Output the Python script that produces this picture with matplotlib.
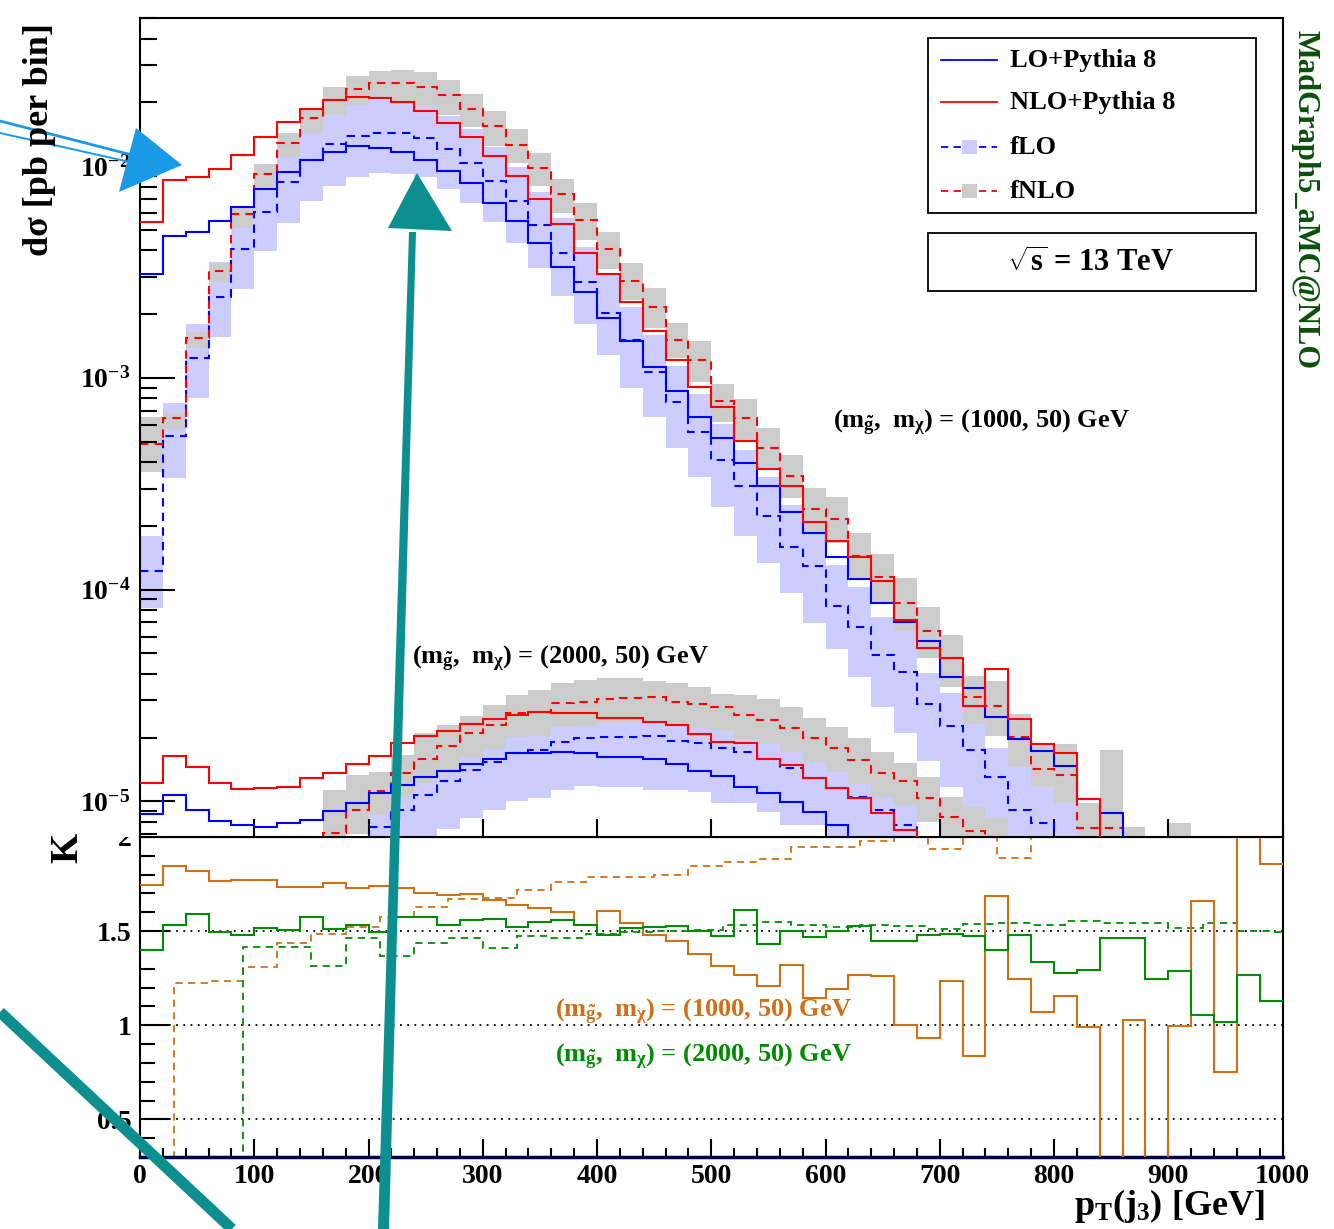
import numpy as np
import matplotlib
matplotlib.use('Agg')
import matplotlib.pyplot as plt
from matplotlib.patches import Rectangle, Polygon

plt.rcParams['font.family'] = 'Liberation Serif'
plt.rcParams['font.weight'] = 'bold'
plt.rcParams['mathtext.fontset'] = 'custom'
plt.rcParams['mathtext.rm'] = 'Liberation Serif:bold'
plt.rcParams['mathtext.it'] = 'Liberation Serif:bold'
plt.rcParams['mathtext.bf'] = 'Liberation Serif:bold'
plt.rcParams['mathtext.default'] = 'rm'

W, H = 1334, 1229
OFF = -7.0   # bin below the plotted range

# pT(j3) binning: 20 GeV for the histograms, 30 GeV for the fixed-order K factor
edges = np.arange(0, 1001, 20)
fo_edges = np.arange(0, 1021, 30)

# log10(dsigma / pb per bin), (m_gluino, m_chi) = (1000, 50) GeV
lo_a = [-2.511, -2.331, -2.312, -2.261, -2.195, -2.110, -2.028, -1.972, -1.932, -1.907,
        -1.914, -1.935, -1.972, -2.024, -2.082, -2.173, -2.261, -2.362, -2.478, -2.594,
        -2.719, -2.825, -2.948, -3.061, -3.184, -3.286, -3.404, -3.511, -3.632, -3.731,
        -3.848, -3.951, -4.062, -4.153, -4.241, -4.414, -4.466, -4.600, -4.705, -4.761,
        -4.831, -4.990, -5.056, OFF, OFF, OFF, OFF, OFF, OFF, OFF]
nlo_a = [-2.266, -2.066, -2.051, -2.014, -1.947, -1.862, -1.791, -1.731, -1.688, -1.673,
         -1.678, -1.696, -1.740, -1.796, -1.862, -1.951, -2.046, -2.156, -2.274, -2.409,
         -2.511, -2.641, -2.778, -2.916, -3.042, -3.136, -3.297, -3.432, -3.511, -3.679,
         -3.769, -3.845, -3.959, -4.144, -4.274, -4.324, -4.548, -4.375, -4.611, -4.729,
         -4.770, -4.990, OFF, OFF, OFF, OFF, OFF, OFF, OFF, OFF]
flo_a = [-3.911, -3.275, -2.908, -2.617, -2.390, -2.216, -2.074, -1.972, -1.898, -1.858,
         -1.843, -1.843, -1.869, -1.920, -1.984, -2.069, -2.165, -2.279, -2.409, -2.549,
         -2.693, -2.822, -2.974, -3.113, -3.254, -3.388, -3.509, -3.651, -3.797, -3.889,
         -4.076, -4.175, -4.309, -4.388, -4.542, -4.644, -4.757, -4.886, -5.041, -5.103,
         OFF, OFF, OFF, OFF, OFF, OFF, OFF, OFF, OFF, OFF]
fnlo_a = [-3.313, -3.190, -2.811, -2.494, -2.228, -2.038, -1.893, -1.775, -1.688, -1.636,
          -1.610, -1.607, -1.626, -1.665, -1.731, -1.811, -1.902, -2.011, -2.132, -2.255,
          -2.393, -2.542, -2.664, -2.822, -2.916, -3.108, -3.191, -3.333, -3.464, -3.621,
          -3.668, -3.841, -3.942, -4.062, -4.194, -4.323, -4.509, -4.550, -4.695, -4.848,
          -4.875, -5.127, -5.127, OFF, OFF, OFF, OFF, OFF, OFF, OFF]
# scale bands (upper / lower edge)
flo_a_up = [-3.747, -3.120, -2.747, -2.453, -2.231, -2.057, -1.920, -1.816, -1.740, -1.703,
            -1.688, -1.688, -1.712, -1.764, -1.825, -1.910, -2.003, -2.121, -2.247, -2.381,
            -2.515, -2.667, -2.798, -2.943, -3.077, -3.218, -3.341, -3.470, -3.601, -3.719,
            -3.884, -3.986, -4.131, -4.191, -4.395, -4.488, -4.600, -4.749, -4.839, -4.923,
            -4.946, OFF, OFF, OFF, OFF, OFF, OFF, OFF, OFF, OFF]
flo_a_dn = [-4.088, -3.475, -3.097, -2.806, -2.582, -2.401, -2.268, -2.165, -2.093, -2.051,
            -2.034, -2.038, -2.051, -2.110, -2.176, -2.263, -2.362, -2.483, -2.612, -2.747,
            -2.892, -3.050, -3.184, -3.330, -3.470, -3.611, -3.747, -3.876, -4.015, -4.159,
            -4.282, -4.414, -4.553, -4.679, -4.808, -4.931, -5.064, -6.0, -6.0, -6.0,
            -6.0, OFF, OFF, OFF, OFF, OFF, OFF, OFF, OFF, OFF]
fnlo_a_up = [-3.184, -3.165, -2.785, -2.459, -2.200, -1.991, -1.843, -1.728, -1.626, -1.575,
             -1.550, -1.547, -1.558, -1.595, -1.660, -1.739, -1.827, -1.937, -2.060, -2.173,
             -2.310, -2.459, -2.575, -2.743, -2.825, -3.029, -3.100, -3.238, -3.364, -3.522,
             -3.564, -3.731, -3.832, -3.944, -4.084, -4.214, -4.408, -4.430, -4.587, -4.734,
             -4.729, -5.006, -4.757, -5.122, OFF, -5.103, OFF, OFF, OFF, OFF]
fnlo_a_dn = [-3.443, -3.243, -2.861, -2.549, -2.294, -2.098, -1.956, -1.846, -1.759, -1.712,
             -1.685, -1.699, -1.712, -1.759, -1.814, -1.906, -1.987, -2.094, -2.223, -2.349,
             -2.488, -2.633, -2.766, -2.908, -3.018, -3.207, -3.294, -3.435, -3.569, -3.728,
             -3.781, -3.955, -4.063, -4.194, -4.324, -4.458, -4.635, -4.691, -4.836, -4.931,
             -5.009, -6.0, -6.0, -6.0, OFF, -6.0, OFF, OFF, OFF, OFF]

# log10(dsigma / pb per bin), (m_gluino, m_chi) = (2000, 50) GeV
lo_b = [-5.061, -4.970, -5.041, -5.091, -5.111, -5.120, -5.103, -5.088, -5.045, -5.009,
        -4.959, -4.923, -4.886, -4.855, -4.825, -4.801, -4.773, -4.770, -4.768, -4.773,
        -4.789, -4.789, -4.801, -4.823, -4.855, -4.880, -4.931, -4.962, -5.001, -5.049,
        -5.111, OFF, OFF, OFF, OFF, OFF, OFF, OFF, OFF, OFF,
        OFF, OFF, OFF, OFF, OFF, OFF, OFF, OFF, OFF, OFF]
nlo_b = [-4.915, -4.784, -4.839, -4.915, -4.941, -4.938, -4.931, -4.891, -4.867, -4.825,
         -4.784, -4.723, -4.691, -4.666, -4.635, -4.611, -4.594, -4.578, -4.581, -4.581,
         -4.608, -4.605, -4.624, -4.639, -4.682, -4.718, -4.726, -4.801, -4.828, -4.891,
         -4.935, -4.985, -5.056, -5.135, OFF, OFF, OFF, OFF, OFF, OFF,
         OFF, OFF, OFF, OFF, OFF, OFF, OFF, OFF, OFF, OFF]
flo_b = [OFF, OFF, OFF, OFF, OFF, OFF, OFF, OFF, OFF, OFF,
         -5.120, -5.041, -4.970, -4.902, -4.852, -4.813, -4.770, -4.757, -4.718, -4.702,
         -4.695, -4.695, -4.691, -4.713, -4.726, -4.749, -4.765, -4.801, -4.844, -4.891,
         -4.938, -4.978, -5.041, -5.111, OFF, OFF, OFF, OFF, OFF, OFF,
         OFF, OFF, OFF, OFF, OFF, OFF, OFF, OFF, OFF, OFF]
fnlo_b = [OFF, OFF, OFF, OFF, OFF, OFF, OFF, OFF, -5.151, -5.041,
          -4.951, -4.867, -4.801, -4.738, -4.679, -4.639, -4.584, -4.577, -4.537, -4.529,
          -4.518, -4.513, -4.509, -4.529, -4.540, -4.556, -4.592, -4.616, -4.655, -4.702,
          -4.749, -4.805, -4.865, -4.902, -4.985, -5.072, -5.138, OFF, OFF, OFF,
          OFF, OFF, OFF, OFF, OFF, OFF, OFF, OFF, OFF, OFF]
flo_b_up = [OFF, OFF, OFF, OFF, OFF, OFF, OFF, OFF, OFF, OFF,
            -4.956, -4.875, -4.805, -4.738, -4.687, -4.649, -4.606, -4.592, -4.554, -4.535,
            -4.531, -4.531, -4.526, -4.550, -4.559, -4.583, -4.602, -4.635, -4.677, -4.724,
            -4.772, -4.814, -4.875, -4.946, OFF, OFF, OFF, OFF, OFF, OFF,
            OFF, OFF, OFF, OFF, OFF, OFF, OFF, OFF, OFF, OFF]
flo_b_dn = [OFF, OFF, OFF, OFF, OFF, OFF, OFF, OFF, OFF, OFF,
            -6.0, -6.0, -6.0, -5.130, -5.078, -5.041, -4.998, -4.984, -4.946, -4.927,
            -4.930, -4.930, -4.946, -4.946, -4.956, -5.009, -5.009, -5.049, -5.111, -5.111,
            -6.0, -6.0, -6.0, -6.0, OFF, OFF, OFF, OFF, OFF, OFF,
            OFF, OFF, OFF, OFF, OFF, OFF, OFF, OFF, OFF, OFF]
fnlo_b_up = [OFF, OFF, OFF, OFF, OFF, OFF, OFF, OFF, -4.946, -4.875,
             -4.861, -4.781, -4.677, -4.639, -4.597, -4.545, -4.498, -4.474, -4.441, -4.427,
             -4.417, -4.417, -4.432, -4.441, -4.460, -4.493, -4.498, -4.517, -4.554, -4.606,
             -4.649, -4.701, -4.767, -4.819, -4.885, -4.979, -5.026, -5.078, OFF, OFF,
             OFF, OFF, OFF, OFF, OFF, OFF, OFF, OFF, OFF, OFF]
fnlo_b_dn = [OFF, OFF, OFF, OFF, OFF, OFF, OFF, OFF, -6.0, -5.154,
             -5.064, -4.979, -4.913, -4.852, -4.790, -4.753, -4.696, -4.691, -4.649, -4.644,
             -4.630, -4.625, -4.620, -4.644, -4.653, -4.668, -4.705, -4.729, -4.767, -4.814,
             -4.861, -4.918, -4.979, -5.017, -5.097, -6.0, -6.0, -6.0, OFF, OFF,
             OFF, OFF, OFF, OFF, OFF, OFF, OFF, OFF, OFF, OFF]

# K factors: NLO+PY8 / LO+PY8 (20 GeV bins) and fNLO / fLO (30 GeV bins)
k_a = [1.744, 1.846, 1.820, 1.767, 1.772, 1.772, 1.735, 1.735, 1.754, 1.728,
       1.740, 1.731, 1.701, 1.690, 1.696, 1.665, 1.637, 1.621, 1.601, 1.530,
       1.607, 1.541, 1.482, 1.447, 1.381, 1.313, 1.269, 1.207, 1.319, 1.145,
       1.195, 1.269, 1.260, 1.003, 0.932, 1.237, 0.834, 1.687, 1.243, 1.068,
       1.154, 0.990, 0.0, 1.029, 0.0, 0.994, 1.660, 0.751, 2.5, 1.859]
k_b = [1.399, 1.530, 1.593, 1.495, 1.482, 1.518, 1.505, 1.577, 1.513, 1.530,
       1.495, 1.577, 1.575, 1.532, 1.557, 1.562, 1.523, 1.548, 1.557, 1.530,
       1.482, 1.518, 1.523, 1.527, 1.500, 1.473, 1.612, 1.434, 1.500, 1.470,
       1.500, 1.527, 1.447, 1.447, 1.479, 1.486, 1.473, 1.402, 1.477, 1.335,
       1.278, 1.296, 1.465, 1.465, 1.246, 1.287, 1.056, 1.015, 1.265, 1.127]
fk_a = [0.0, 1.225, 1.237, 1.310, 1.438, 1.486, 1.521, 1.577, 1.630, 1.669,
        1.678, 1.717, 1.761, 1.788, 1.788, 1.797, 1.845, 1.868, 1.882, 1.945,
        1.945, 1.980, 2.5, 1.935, 2.5, 1.891, 2.5, 2.5, 2.5, 2.5,
        2.5, 2.5, 2.5, 2.5]
fk_b = [0.0, 0.0, 0.0, 1.415, 1.415, 1.313, 1.461, 1.369, 1.436, 1.461,
        1.412, 1.473, 1.461, 1.486, 1.495, 1.500, 1.505, 1.530, 1.548, 1.530,
        1.523, 1.530, 1.527, 1.509, 1.536, 1.541, 1.530, 1.553, 1.545, 1.541,
        1.518, 1.541, 1.500, 1.495]

BLUE = '#0000ff'
RED = '#ff0000'
BAND_LO = '#ccccff'
BAND_NLO = '#cccccc'
ORANGE = '#d06f14'
GREEN = '#008c00'
MG_GREEN = '#0b4f0b'
DASH = (0, (4, 3))


def xs(logv):
    return 10.0 ** np.asarray(logv)


fig = plt.figure(figsize=(W / 100, H / 100), dpi=100)
# ratio pad first so the main pad sits on top of it
ax_k = fig.add_axes([140 / W, 1 - 1157 / H, 1142.5 / W, 320 / H])
ax = fig.add_axes([140 / W, 1 - 837 / H, 1142.5 / W, 819 / H])

# ---- main pad ----
for up, dn in [(flo_a_up, flo_a_dn), (flo_b_up, flo_b_dn)]:
    ax.stairs(xs(up), edges, baseline=xs(dn), fill=True, color=BAND_LO, lw=0, zorder=1)
for up, dn in [(fnlo_a_up, fnlo_a_dn), (fnlo_b_up, fnlo_b_dn)]:
    ax.stairs(xs(up), edges, baseline=xs(dn), fill=True, color=BAND_NLO, lw=0, zorder=1)

for vals, col in [(flo_a, BLUE), (fnlo_a, RED), (flo_b, BLUE), (fnlo_b, RED)]:
    ax.stairs(xs(vals), edges, baseline=None, color=col, lw=1.5, ls=DASH, zorder=2)
for vals, col in [(lo_a, BLUE), (nlo_a, RED), (lo_b, BLUE), (nlo_b, RED)]:
    ax.stairs(xs(vals), edges, baseline=None, color=col, lw=1.5, zorder=3)

ax.set_yscale('log')
ax.set_yticks([1e-5, 1e-4, 1e-3, 1e-2],
              labels=[r'$10^{-5}$', r'$10^{-4}$', r'$10^{-3}$', r'$10^{-2}$'])
ax.set_yticks([m * 10.0 ** k for k in range(-6, -1) for m in range(2, 10)], minor=True)
ax.yaxis.set_minor_formatter(plt.NullFormatter())
ax.set_xticks(np.arange(0, 1001, 100))
# limits after the ticks, set_yticks would widen them otherwise
ax.set_xlim(0, 1000)
ax.set_ylim(10 ** -5.168, 10 ** -1.301)
ax.tick_params(axis='y', which='major', direction='in', length=25, width=1.5,
               labelsize=20, pad=7)
ax.tick_params(axis='y', which='minor', direction='in', length=12.5, width=1.5)
ax.tick_params(axis='x', which='major', direction='in', length=13, width=1.5,
               labelbottom=False)
for s in ax.spines.values():
    s.set_linewidth(1.5)

# ---- K factor pad ----
for lvl in [0.5, 1.0, 1.5]:
    ax_k.axhline(lvl, color='black', lw=1.3, ls=(0, (1, 3)), zorder=1)
ax_k.stairs(fk_a, fo_edges, baseline=None, color=ORANGE, lw=1.3, ls=DASH, zorder=2)
ax_k.stairs(fk_b, fo_edges, baseline=None, color=GREEN, lw=1.3, ls=DASH, zorder=2)
ax_k.stairs(k_a, edges, baseline=None, color=ORANGE, lw=1.5, zorder=3)
ax_k.stairs(k_b, edges, baseline=None, color=GREEN, lw=1.5, zorder=3)

ax_k.set_xticks(np.arange(0, 1001, 100))
ax_k.set_xticks(np.arange(0, 1001, 20), minor=True)
ax_k.set_yticks([0.5, 1.0, 1.5, 2.0], labels=['0.5', '1', '1.5', '2'])
ax_k.set_yticks(np.arange(0.3, 2.0, 0.1), minor=True)
ax_k.set_xlim(0, 1000)
ax_k.set_ylim(0.3, 2.0)
ax_k.tick_params(axis='x', which='major', direction='in', length=13, width=1.5,
                 labelsize=20, pad=5)
ax_k.tick_params(axis='x', which='minor', direction='in', length=6.5, width=1.5)
ax_k.tick_params(axis='y', which='major', direction='in', length=21, width=1.5,
                 labelsize=20, pad=6)
ax_k.tick_params(axis='y', which='minor', direction='in', length=11, width=1.5)
for s in ax_k.spines.values():
    s.set_linewidth(1.5)
ax_k.spines['bottom'].set_color('#00004a')
ax_k.spines['bottom'].set_linewidth(2.5)

# ---- overlay in pixel units: legend, labels, notes ----
ov = fig.add_axes([0, 0, 1, 1])
ov.set_xlim(0, W)
ov.set_ylim(H, 0)
ov.axis('off')
ov.patch.set_visible(False)

# upper half of the "2" label is hidden by the main pad
ov.add_patch(Rectangle((95, 815), 43, 22, color='white', lw=0))

ov.add_patch(Rectangle((928, 38), 328, 175, fill=False, ec='black', lw=1.3))
legend_rows = [('LO+Pythia 8', BLUE, '-', None, 60),
               ('NLO+Pythia 8', RED, '-', None, 102),
               ('fLO', BLUE, DASH, BAND_LO, 147),
               ('fNLO', RED, DASH, BAND_NLO, 191)]
for label, col, ls, fc, yy in legend_rows:
    ov.plot([941, 997], [yy, yy], color=col, ls=ls, lw=1.3)
    if fc is not None:
        ov.add_patch(Rectangle((962, yy - 7), 15, 14, color=fc, lw=0, zorder=3))
    ov.text(1010, yy, label, ha='left', va='center', fontsize=19)

ov.add_patch(Rectangle((928, 233), 328, 58, fill=False, ec='black', lw=1.3))
ov.text(1091, 263, r'$\sqrt{s}$ = 13 TeV', ha='center', va='center', fontsize=22)

ov.text(1305, 200, 'MadGraph5_aMC@NLO', rotation=-90, ha='center', va='center',
        fontsize=22, color=MG_GREEN)
ov.text(40, 140, 'dσ [pb per bin]', rotation=90, ha='center', va='center', fontsize=26)
ov.text(68, 848, 'K', rotation=90, ha='center', va='center', fontsize=28)
ov.text(1265, 1215, r'$p_{T}(j_{3})$ [GeV]', ha='right', va='baseline', fontsize=26)

mass_a = r'$(m_{\tilde{g}},\ m_{\chi})$ = (1000, 50) GeV'
mass_b = r'$(m_{\tilde{g}},\ m_{\chi})$ = (2000, 50) GeV'
ov.text(833, 428, mass_a, ha='left', va='baseline', fontsize=19)
ov.text(412, 664, mass_b, ha='left', va='baseline', fontsize=19)
ov.text(555, 1017, mass_a, ha='left', va='baseline', fontsize=19, color=ORANGE)
ov.text(555, 1062, mass_b, ha='left', va='baseline', fontsize=19, color=GREEN)

# hand-drawn pointers
ov.plot([0, 136], [121, 156], color='#1a9ae6', lw=2.0)
ov.plot([0, 130], [133, 162], color='#1a9ae6', lw=1.4)
ov.add_patch(Polygon([[136, 128], [119, 192], [182, 165]], closed=True,
                     color='#1a9ae6', lw=0))
ov.add_patch(Polygon([[378, 1229], [389, 1229], [416, 232], [409, 232]], closed=True,
                     color='#0e8f8f', lw=0))
ov.add_patch(Polygon([[388, 228], [452, 231], [417, 173]], closed=True,
                     color='#0e8f8f', lw=0))
ov.plot([0, 232], [1012, 1229], color='#0e8f8f', lw=8, solid_capstyle='butt')

fig.savefig('out.png', dpi=100)
